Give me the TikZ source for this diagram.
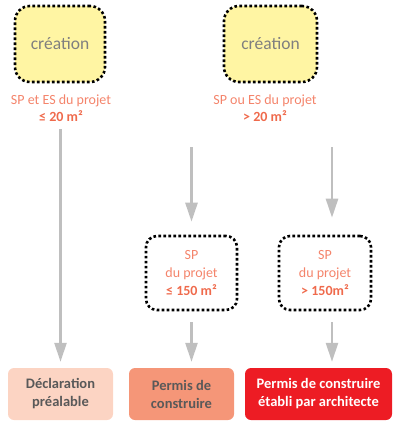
\documentclass[tikz,border=0pt]{standalone}
\usepackage{fontspec}
\setmainfont{Carlito}
\usetikzlibrary{arrows.meta,calc}
\definecolor{yel}{HTML}{FFF5A3}
\definecolor{salm}{HTML}{F4846B}
\definecolor{salmb}{HTML}{EF6A4C}
\definecolor{fillA}{HTML}{FCD4C3}
\definecolor{fillB}{HTML}{F59678}
\definecolor{fillC}{HTML}{ED1C24}
\definecolor{txtgray}{HTML}{595959}
\definecolor{arrgray}{HTML}{BFBFBF}
\definecolor{creagray}{HTML}{7F7F7F}
\begin{document}
\begin{tikzpicture}[x=1pt,y=-1pt,
  dotbox/.style={draw=black,line width=2.6pt,dash pattern=on 2.6pt off 2.4pt,rounded corners=11pt,inner sep=0pt},
  creabox/.style={dotbox,fill=yel,rounded corners=15pt,minimum width=90pt,minimum height=76pt,text=creagray,font=\fontsize{17.5}{20}\selectfont},
  smallbox/.style={dotbox,minimum width=91pt,minimum height=74pt,text=salm,align=center,font=\fontsize{14}{18}\selectfont},
  lbl/.style={text=salm,align=center,inner sep=0pt,font=\fontsize{14}{17}\selectfont},
  endbox/.style={rounded corners=6pt,minimum height=52pt,inner sep=0pt,align=center,font=\fontsize{14.5}{18}\selectfont\bfseries},
  arr/.style={draw=arrgray,line width=2.6pt,-{Triangle[width=12pt,length=19pt]}}]
\useasboundingbox (0,0) rectangle (393,421);
% creation boxes
\node[creabox] (cL) at (60,44) {création};
\node[creabox,minimum width=93pt] (cR) at (270.5,44) {création};
% labels
\node[lbl] (lL) at (61,108.5) {SP et ES du projet\\\textcolor{salmb}{\bfseries ≤ 20 m²}};
\node[lbl] (lR) at (265,108.5) {SP ou ES du projet\\\textcolor{salmb}{\bfseries > 20 m²}};
% small boxes
\node[smallbox] (sM) at (191.5,273) {SP\\du projet\\\textcolor{salmb}{\bfseries ≤ 150 m²}};
\node[smallbox,minimum width=92pt] (sR) at (325,273) {SP\\du projet\\\textcolor{salmb}{\bfseries > 150m²}};
% end boxes
\node[endbox,fill=fillA,text=txtgray,minimum width=105pt] (b1) at (60.5,394) {Déclaration\\préalable};
\node[endbox,fill=fillB,text=txtgray,minimum width=105pt] (b2) at (181.5,394) {Permis de\\construire};
\node[endbox,fill=fillC,text=white,minimum width=147pt] (b3) at (318.5,394) {Permis de construire\\établi par architecte};
% arrow start coordinates
\coordinate (aL) at (60.5,129);
\coordinate (aM) at (191.5,147);
\coordinate (aR) at (332,147);
\coordinate (aM2) at (191.5,322);
\coordinate (aR2) at (332,322);
\draw[arr] (aL) -- ($(aL |- b1.north)+(0,-6)$);
\draw[arr] (aM) -- ($(aM |- sM.north)+(0,-13)$);
\draw[arr] (aR) -- ($(aR |- sR.north)+(0,-17)$);
\draw[arr] (aM2) -- ($(aM2 |- b2.north)+(0,-6)$);
\draw[arr] (aR2) -- ($(aR2 |- b3.north)+(0,-6)$);
\end{tikzpicture}
\end{document}
